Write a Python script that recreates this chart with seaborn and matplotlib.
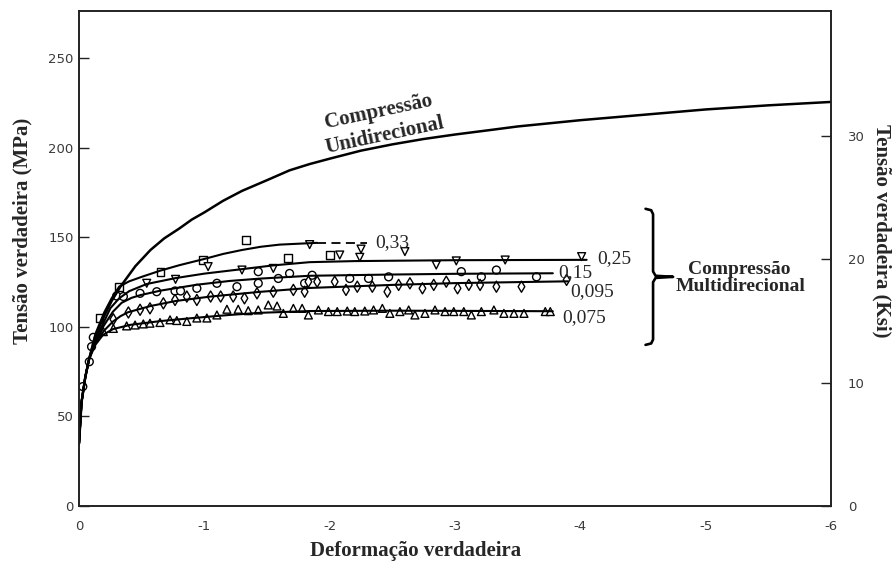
import matplotlib
matplotlib.use("Agg")
import matplotlib.pyplot as plt
import numpy as np
import pandas as pd
import seaborn as sns

# ---------------------------------------------------------------- data
# Unidirectional compression curve (true strain, true stress in MPa)
uni_strain = [0.0, -0.02, -0.05, -0.08, -0.13, -0.2, -0.26, -0.33, -0.45, -0.57, -0.68, -0.8,
              -0.9, -1.0, -1.15, -1.3, -1.5, -1.68, -1.84, -2.0, -2.25, -2.5, -2.75, -3.0,
              -3.28, -3.5, -4.0, -4.5, -5.0, -5.5, -6.0]
uni_stress = [35, 58, 72, 82, 95, 106, 114.5, 122.5, 134, 143, 149.5, 155,
              160, 164, 170.5, 176, 182, 187.5, 191, 194, 198.5, 202, 205, 207.5,
              210, 212, 215.5, 218.5, 221.5, 223.8, 225.7]

# Multidirectional compression fitted curves, one per strain increment
c033_strain = [0.0, -0.02, -0.05, -0.08, -0.13, -0.2, -0.26, -0.32, -0.4, -0.5, -0.65, -0.8, -1.0,
               -1.15, -1.3, -1.45, -1.6, -1.9]
c033_stress = [35, 58, 72, 82, 96, 108, 116, 122.5, 125.5, 128, 131.5, 134.5, 138,
               140.8, 143, 144.8, 146, 147]
c033_dash_strain = [-1.9, -2.3]
c033_dash_stress = [147, 147]

c025_strain = [0.0, -0.02, -0.05, -0.08, -0.13, -0.2, -0.25, -0.32, -0.4, -0.54, -0.77, -1.0,
               -1.3, -1.55, -1.84, -2.2, -2.5, -3.0, -4.05]
c025_stress = [35, 58, 72, 82, 93, 103, 110.5, 116, 120, 124, 127.3, 129.8,
               132.3, 134.4, 136.2, 136.8, 137, 137.3, 137.5]

c015_strain = [0.0, -0.02, -0.05, -0.08, -0.13, -0.2, -0.27, -0.34, -0.42, -0.49, -0.65, -0.94,
               -1.2, -1.44, -1.84, -2.5, -3.0, -3.78]
c015_stress = [35, 58, 72, 82, 92, 101, 108.5, 113.5, 116.3, 117.8, 120.3, 123.6,
               125.7, 127, 128.6, 129.3, 129.7, 130]

c0095_strain = [0.0, -0.02, -0.05, -0.08, -0.13, -0.2, -0.27, -0.33, -0.39, -0.57, -0.77, -1.05,
                -1.44, -1.84, -2.5, -3.0, -3.9]
c0095_stress = [35, 58, 72, 82, 91, 98, 103, 106, 108.2, 111.7, 114.5, 117,
                119.6, 121.8, 123.5, 124.5, 125.5]

c0075_strain = [0.0, -0.02, -0.05, -0.08, -0.13, -0.19, -0.27, -0.41, -0.65, -0.91, -1.18, -1.44,
                -1.84, -2.5, -3.0, -3.78]
c0075_stress = [35, 58, 72, 82, 90, 95.5, 98.8, 101.2, 103.3, 105, 106.6, 107.9,
                108.9, 109.1, 109, 108.8]

# Measured points
common_strain = [-0.03, -0.082, -0.10, -0.114]
common_stress = [66.7, 80.6, 89.0, 94.2]

p033_strain = [-0.163, -0.32, -0.65, -0.99, -1.33, -1.67, -2.0]
p033_stress = [104.8, 122.5, 130.9, 137.4, 148.5, 138.4, 140.0]
p033v_strain = [-1.84, -2.25]
p033v_stress = [146.0, 143.5]

p025_strain = [-0.54, -0.77, -1.03, -1.30, -1.55, -2.08, -2.24, -2.60, -2.85, -3.01, -3.40, -4.01]
p025_stress = [124.4, 126.6, 133.7, 131.8, 132.7, 140.2, 138.9, 142.1, 134.6, 136.9, 137.4, 139.3]

p015_strain = [-0.30, -0.354, -0.487, -0.62, -0.766, -0.81, -0.94, -1.10, -1.26, -1.43, -1.43, -1.59,
               -1.68, -1.80, -1.86, -2.16, -2.31, -2.47, -3.05, -3.21, -3.33, -3.65]
p015_stress = [117.3, 117.0, 118.8, 119.7, 120.1, 120.1, 121.6, 124.4, 122.5, 124.4, 130.9, 127.1,
               129.9, 124.4, 128.9, 127.1, 127.1, 128.0, 130.9, 128.0, 131.8, 128.0]

p0095_strain = [-0.274, -0.394, -0.487, -0.566, -0.673, -0.766, -0.86, -0.94, -1.05, -1.13, -1.23, -1.32,
                -1.42, -1.55, -1.71, -1.80, -1.83, -1.90, -2.04, -2.13, -2.22, -2.34, -2.46, -2.55,
                -2.64, -2.74, -2.83, -2.93, -3.02, -3.11, -3.20, -3.33, -3.53, -3.89]
p0095_stress = [104.3, 108.1, 109.6, 110.4, 113.2, 115.1, 117.0, 115.1, 117.0, 117.0, 117.0, 116.0,
                118.8, 119.7, 120.7, 119.7, 125.3, 125.3, 125.3, 120.7, 122.5, 122.5, 119.7, 123.5,
                124.4, 121.6, 123.5, 125.3, 121.6, 123.5, 123.5, 122.5, 122.5, 126.3]

p0075_strain = [-0.194, -0.274, -0.38, -0.447, -0.513, -0.566, -0.646, -0.726, -0.78, -0.86, -0.94,
                -1.02, -1.10, -1.18, -1.27, -1.35, -1.43, -1.51, -1.58, -1.63, -1.71, -1.78,
                -1.83, -1.91, -1.99, -2.06, -2.14, -2.20, -2.28, -2.35, -2.42, -2.48, -2.56, -2.63,
                -2.68, -2.76, -2.84, -2.92, -2.99, -3.07, -3.13, -3.21, -3.31, -3.39, -3.47, -3.55,
                -3.72, -3.76]
p0075_stress = [97.4, 99.2, 100.6, 101.1, 101.7, 102.1, 102.5, 104.0, 103.6, 103.1, 105.0,
                105.0, 106.7, 109.9, 109.9, 109.1, 109.5, 112.3, 111.7, 107.6, 110.4, 110.4,
                106.7, 109.5, 108.6, 108.6, 108.9, 108.6, 108.9, 109.5, 110.4, 107.6, 108.6, 109.5,
                106.7, 107.6, 109.5, 108.6, 108.6, 108.6, 106.7, 108.6, 109.5, 107.6, 107.6, 107.6,
                108.6, 108.6]

curve_labels = ["0,33", "0,25", "0,15", "0,095", "0,075"]

# ---------------------------------------------------------------- tables
curves = pd.concat([
    pd.DataFrame({"strain": s, "stress": t, "serie": name})
    for s, t, name in [
        (c033_strain, c033_stress, "0,33"),
        (c025_strain, c025_stress, "0,25"),
        (c015_strain, c015_stress, "0,15"),
        (c0095_strain, c0095_stress, "0,095"),
        (c0075_strain, c0075_stress, "0,075"),
    ]
], ignore_index=True)
uni = pd.DataFrame({"strain": uni_strain, "stress": uni_stress})

points = pd.concat([
    pd.DataFrame({"strain": s, "stress": t, "serie": name})
    for s, t, name in [
        (common_strain, common_stress, "comum"),
        (p033_strain, p033_stress, "0,33"),
        (p033v_strain, p033v_stress, "0,33v"),
        (p025_strain, p025_stress, "0,25"),
        (p015_strain, p015_stress, "0,15"),
        (p0095_strain, p0095_stress, "0,095"),
        (p0075_strain, p0075_stress, "0,075"),
    ]
], ignore_index=True)

marker_map = {"comum": "o", "0,33": "s", "0,33v": "v", "0,25": "v",
              "0,15": "o", "0,095": "d", "0,075": "^"}

# ---------------------------------------------------------------- figure
sns.set_theme(style="white")
plt.rcParams["font.family"] = ["DejaVu Sans"]

fig = plt.figure(figsize=(8.96, 5.69), dpi=100)
ax = fig.add_axes([0.0882, 0.1107, 0.8393, 0.870])

sns.scatterplot(data=points, x="strain", y="stress", style="serie", markers=marker_map,
                color="white", edgecolor="black", linewidth=1.0, s=32, legend=False,
                ax=ax, zorder=2)
sns.lineplot(data=curves, x="strain", y="stress", units="serie", estimator=None,
             sort=False, color="black", linewidth=1.5, ax=ax, zorder=3)
sns.lineplot(data=uni, x="strain", y="stress", estimator=None, sort=False,
             color="black", linewidth=1.8, ax=ax, zorder=3)
ax.plot(c033_dash_strain, c033_dash_stress, color="black", lw=1.3, ls=(0, (5, 3)), zorder=3)

ax.set_xlim(0, -6)
ax.set_ylim(0, 276.5)
xt = [0, -1, -2, -3, -4, -5, -6]
ax.set_xticks(xt)
ax.set_xticklabels(["0" if v == 0 else f"-{abs(v)}" for v in xt])
ax.set_yticks([0, 50, 100, 150, 200, 250])
ax.set_xlabel("")
ax.set_ylabel("")

tick_color = "#3a3a3a"
ax.tick_params(axis="x", direction="in", length=6, width=1, pad=10,
               labelsize=9.5, labelcolor=tick_color, color="#222222")
ax.tick_params(axis="y", direction="in", length=7, width=1, pad=4,
               labelsize=9.5, labelcolor=tick_color, color="#222222")
for sp in ax.spines.values():
    sp.set_linewidth(1.2)
    sp.set_color("#222222")

ax2 = ax.twinx()
ax2.set_ylim(0, 276.5 / 6.895)
ax2.set_yticks([0, 10, 20, 30])
ax2.tick_params(axis="y", direction="in", length=7, width=1, pad=12,
                labelsize=9.5, labelcolor=tick_color, color="#222222")
for sp in ax2.spines.values():
    sp.set_linewidth(1.2)
    sp.set_color("#222222")

serif = ["Liberation Serif", "DejaVu Serif"]

# axis titles
fig.text(0.464, 0.031, "Deformação verdadeira", family=serif, weight="bold",
         fontsize=15, ha="center", va="center")
fig.text(0.025, 0.595, "Tensão verdadeira (MPa)", family=serif, weight="bold",
         fontsize=15, ha="center", va="center", rotation=90)
fig.text(0.984, 0.595, "Tensão verdadeira (Ksi)", family=serif, weight="bold",
         fontsize=15, ha="center", va="center", rotation=-90)

# curve labels
label_pos = {"0,33": (-2.36, 144.5), "0,25": (-4.134, 135.9), "0,15": (-3.823, 127.8),
             "0,095": (-3.918, 117.3), "0,075": (-3.855, 103.0)}
for name in curve_labels:
    x, y = label_pos[name]
    ax.text(x, y, name, family=serif, fontsize=14, ha="left", va="baseline", zorder=4)

ax.text(-2.386, 220.1, "Compressão", family=serif, weight="bold", fontsize=15,
        ha="center", va="center", rotation=12, rotation_mode="anchor")
ax.text(-2.44, 206.7, "Unidirecional", family=serif, weight="bold", fontsize=15,
        ha="center", va="center", rotation=12, rotation_mode="anchor")

# brace grouping the multidirectional curves
brace_x = [-4.52, -4.565, -4.58, -4.58, -4.60, -4.74, -4.60, -4.58, -4.58, -4.565, -4.52]
brace_y = [166, 165.2, 163, 131, 128.6, 128, 127.4, 125, 93, 90.8, 90]
ax.plot(brace_x, brace_y, color="black", lw=1.9, clip_on=False, zorder=4)
ax.text(-4.86, 129.6, "Compressão", family=serif, weight="bold", fontsize=14,
        ha="left", va="baseline")
ax.text(-4.757, 120.3, "Multidirecional", family=serif, weight="bold", fontsize=14,
        ha="left", va="baseline")

fig.savefig("out.png", dpi=100)
